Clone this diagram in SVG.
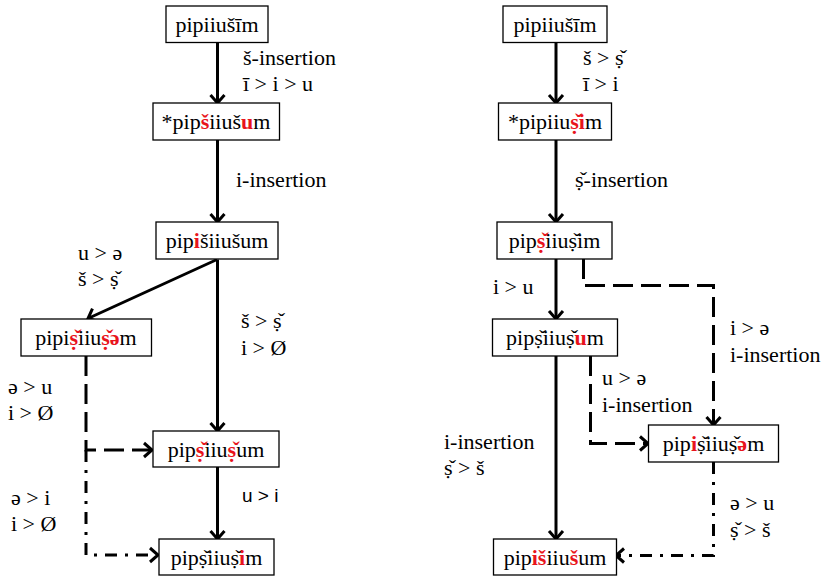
<svg xmlns="http://www.w3.org/2000/svg" width="829" height="576" viewBox="0 0 829 576">
<style>
.box{fill:#fff;stroke:#000;stroke-width:1.3}
text{font-family:'Liberation Serif','Times New Roman',serif;font-size:22px;fill:#000}
.nt{text-anchor:middle}
.r{fill:#e8141c;font-weight:bold}
text.s{font-family:'Liberation Sans',Arial,sans-serif;font-size:19px}
.c{fill:none;stroke:#000;stroke-width:3}
.dash{stroke-dasharray:20 8}
.dd{stroke-dasharray:12 8 3 8}
</style>
<defs>
<marker id="ah" markerUnits="userSpaceOnUse" markerWidth="20" markerHeight="20" viewBox="-12 -10 14 20" refX="-1" refY="0" orient="auto">
<path d="M-8,-7 L0,0 L-8,7" fill="none" stroke="#000" stroke-width="3" stroke-linejoin="miter"/>
</marker>
</defs>

<g id="connectors">
<path class="c" d="M217.5,42.5 V102" marker-end="url(#ah)"/>
<path class="c" d="M217.5,140 V221" marker-end="url(#ah)"/>
<path class="c" d="M217,259.5 L89,318" marker-end="url(#ah)"/>
<path class="c" d="M217.5,259.5 V430" marker-end="url(#ah)"/>
<path class="c" d="M217.5,467 V538" marker-end="url(#ah)"/>
<path class="c dash" d="M86,356 V450 H151" marker-end="url(#ah)"/>
<path class="c dd" d="M86,450 V555 H157" marker-end="url(#ah)"/>

<path class="c" d="M556,42.5 V102" marker-end="url(#ah)"/>
<path class="c" d="M556,140 V221" marker-end="url(#ah)"/>
<path class="c" d="M556,259 V318" marker-end="url(#ah)"/>
<path class="c" d="M556,356 V538" marker-end="url(#ah)"/>
<path class="c dash" d="M583.5,259 V285.5 H713.5 V424" marker-end="url(#ah)"/>
<path class="c dash" d="M590.5,356 V443.5 H647" marker-end="url(#ah)"/>
<path class="c dd" d="M713.5,462 V555.5 H617" marker-end="url(#ah)"/>
</g>

<g id="L1"><rect class="box" x="166" y="6" width="102" height="36.5"/><text class="nt" x="217" y="32">pipiiušīm</text></g>
<g id="L2"><rect class="box" x="153" y="103" width="126.5" height="37"/><text class="nt" x="216" y="129">*pip<tspan class="r">š</tspan>iiuš<tspan class="r">u</tspan>m</text></g>
<g id="L3"><rect class="box" x="156" y="222" width="122" height="37"/><text class="nt" x="217" y="248">pip<tspan class="r">i</tspan>šiiušum</text></g>
<g id="L4"><rect class="box" x="21" y="319" width="130.5" height="37"/><text class="nt" x="86" y="345">pipi<tspan class="r">&#x161;&#x323;</tspan>iiu<tspan class="r">&#x161;&#x323;ə</tspan>m</text></g>
<g id="L5"><rect class="box" x="153" y="431" width="126" height="36"/><text class="nt" x="216" y="457">pip<tspan class="r">&#x161;&#x323;</tspan>iiu<tspan class="r">&#x161;&#x323;</tspan>um</text></g>
<g id="L6"><rect class="box" x="159" y="539" width="115" height="36"/><text class="nt" x="216.5" y="565">pip&#x161;&#x323;iiu&#x161;&#x323;<tspan class="r">i</tspan>m</text></g>

<g id="R1"><rect class="box" x="503" y="6" width="104" height="36.5"/><text class="nt" x="555" y="32">pipiiušīm</text></g>
<g id="R2"><rect class="box" x="498.5" y="103" width="113" height="37"/><text class="nt" x="555" y="129">*pipiiu<tspan class="r">&#x161;&#x323;i</tspan>m</text></g>
<g id="R3"><rect class="box" x="497" y="222" width="115" height="37"/><text class="nt" x="554.5" y="248">pip<tspan class="r">&#x161;&#x323;</tspan>iiu&#x161;&#x323;im</text></g>
<g id="R4"><rect class="box" x="492.5" y="319" width="125" height="37"/><text class="nt" x="555" y="345">pip&#x161;&#x323;iiu&#x161;&#x323;<tspan class="r">u</tspan>m</text></g>
<g id="R5"><rect class="box" x="648.5" y="425" width="130" height="37"/><text class="nt" x="713.5" y="451">pip<tspan class="r">i</tspan>&#x161;&#x323;iiu&#x161;&#x323;<tspan class="r">ə</tspan>m</text></g>
<g id="R6"><rect class="box" x="493.5" y="539" width="123" height="36"/><text class="nt" x="555" y="565">pip<tspan class="r">iš</tspan>iiu<tspan class="r">š</tspan>um</text></g>

<g id="labels">
<text x="243" y="65">š-insertion</text>
<text x="243" y="91">ī &gt; i &gt; u</text>
<text x="236" y="187">i-insertion</text>
<text x="78" y="260">u &gt; ə</text>
<text x="78" y="286">š &gt; &#x161;&#x323;</text>
<text x="241" y="328">š &gt; &#x161;&#x323;</text>
<text x="241" y="355">i &gt; Ø</text>
<text x="8" y="394">ə &gt; u</text>
<text x="8" y="420">i &gt; Ø</text>
<text x="11" y="505">ə &gt; i</text>
<text x="11" y="531">i &gt; Ø</text>
<text class="s" x="242" y="502">u &gt; i</text>

<text x="583" y="65">š &gt; &#x161;&#x323;</text>
<text x="583" y="91">ī &gt; i</text>
<text x="575" y="187">&#x161;&#x323;-insertion</text>
<text x="493" y="294">i &gt; u</text>
<text x="730" y="335">i &gt; ə</text>
<text x="730" y="362">i-insertion</text>
<text x="602" y="385">u &gt; ə</text>
<text x="602" y="412">i-insertion</text>
<text x="444" y="449">i-insertion</text>
<text x="444" y="475">&#x161;&#x323; &gt; š</text>
<text x="730" y="510">ə &gt; u</text>
<text x="730" y="537">&#x161;&#x323; &gt; š</text>
</g>
</svg>
